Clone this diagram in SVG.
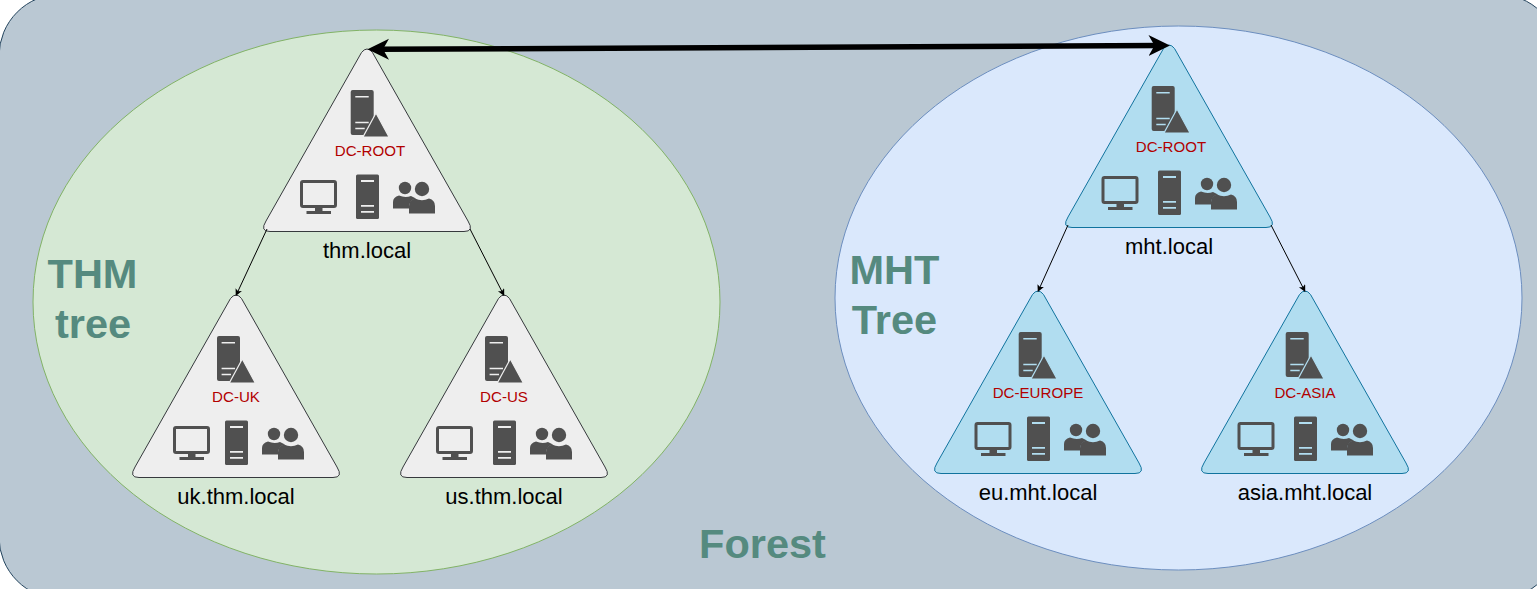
<svg xmlns="http://www.w3.org/2000/svg" xmlns:xlink="http://www.w3.org/1999/xlink" width="1537" height="589" viewBox="0 0 1537 589">
<style>
text{font-family:"Liberation Sans",Arial,sans-serif;text-anchor:middle}
.big{font-size:41.500px;font-weight:bold;fill:#558a7f}
.dc{font-size:15.100px;fill:#b20000}
.dom{font-size:22px;fill:#000}
.ic{fill:#505050}
.tg{fill:#eeeeee;stroke:#36393d;stroke-width:1}
.tb{fill:#b1ddf0;stroke:#10739e;stroke-width:1}
.thin{stroke:#000;stroke-width:1;fill:none;marker-end:url(#a)}
.thick{stroke:#000;stroke-width:5.500;fill:none;marker-start:url(#b);marker-end:url(#b)}
</style>
<defs>
<marker id="a" markerUnits="userSpaceOnUse" markerWidth="8" markerHeight="8" refX="6.500" refY="3.500" orient="auto"><path d="M0,0L7,3.500L0,7L1.700,3.500Z" fill="#000"/></marker>
<marker id="b" markerUnits="userSpaceOnUse" markerWidth="24" markerHeight="24" refX="11" refY="11" orient="auto-start-reverse"><path d="M0,0.500L21.500,11L0,21.500L6,11Z" fill="#000"/></marker>
<path id="tri" d="M-5.500,3.500Q0,-3.500 5.500,3.500L101,172Q107.500,182.500 97,182.500L-97,182.500Q-107.500,182.500 -101,172Z"/>
<g id="dcicon">
<rect class="ic" x="0" y="41" width="23" height="45" rx="2"/>
<path d="M4.600,47.700H18M4.600,73.500H18M4.600,79.500H14" stroke="var(--l)" stroke-width="1.600" fill="none"/>
<path class="ic" d="M25.300,64L12.300,88H38.300Z" stroke="var(--l)" stroke-width="1.200"/>
</g>
<g id="monitor">
<rect x="1.500" y="132.500" width="34" height="25" rx="1.500" fill="none" stroke="#505050" stroke-width="3"/>
<path class="ic" d="M15,158.500H22.500V162H31V165H6.500V162H15Z"/>
</g>
<g id="rest">
<rect class="ic" x="-11" y="125.500" width="23" height="44.500" rx="1.500"/>
<path d="M-6,132H7M-6,156.800H7M-6,162.800H7" stroke="var(--l)" stroke-width="1.800" fill="none"/>
<circle class="ic" cx="38" cy="139" r="6.200"/>
<path class="ic" d="M26,159.500V153Q26,148 32,146.500Q38,149 44,147L49,149.500Q43,150.500 42,157V159.500Z"/>
<circle class="ic" cx="55" cy="140" r="7.200"/>
<path class="ic" d="M42,164.500V157Q42,151 48,149.500Q55,153 62,149.500Q68,151 68,157V164.500Z"/>
</g>
</defs>
<rect id="forest" x="-1" y="-6" width="1560.400" height="605" rx="62" ry="62" fill="#bac8d3" stroke="#23445d" stroke-width="1"/>
<ellipse id="thm-tree" cx="376.500" cy="302" rx="343.500" ry="272" fill="#d5e8d4" stroke="#82b366"/>
<ellipse id="mht-tree" cx="1178.500" cy="298" rx="343.500" ry="272" fill="#dae8fc" stroke="#6c8ebf"/>
<text class="big" x="762.500" y="558">Forest</text>
<g id="thm-label"><text class="big" x="92.500" y="288">THM</text><text class="big" x="93" y="338">tree</text></g>
<g id="mht-label"><text class="big" x="894.500" y="284">MHT</text><text class="big" x="894.500" y="334">Tree</text></g>
<g id="thm-root" transform="translate(367,49)" style="--l:#eeeeee"><use href="#tri" class="tg"/><use href="#dcicon" x="-16.300"/><use href="#monitor" x="-67"/><use href="#rest"/><text class="dc" x="3" y="107">DC-ROOT</text><text class="dom" y="208.500">thm.local</text></g>
<g id="thm-uk" transform="translate(236,295)" style="--l:#eeeeee"><use href="#tri" class="tg"/><use href="#dcicon" x="-19"/><use href="#monitor" x="-63"/><use href="#rest"/><text class="dc" y="107">DC-UK</text><text class="dom" y="208.500">uk.thm.local</text></g>
<g id="thm-us" transform="translate(504,295)" style="--l:#eeeeee"><use href="#tri" class="tg"/><use href="#dcicon" x="-19"/><use href="#monitor" x="-68"/><use href="#rest"/><text class="dc" y="107">DC-US</text><text class="dom" y="208.500">us.thm.local</text></g>
<g id="mht-root" transform="translate(1169,45)" style="--l:#b1ddf0"><use href="#tri" class="tb"/><use href="#dcicon" x="-17.300"/><use href="#monitor" x="-67.500"/><use href="#rest"/><text class="dc" x="2" y="107">DC-ROOT</text><text class="dom" y="208.500">mht.local</text></g>
<g id="mht-eu" transform="translate(1038,291)" style="--l:#b1ddf0"><use href="#tri" class="tb"/><use href="#dcicon" x="-19.300"/><use href="#monitor" x="-63.500"/><use href="#rest"/><text class="dc" y="107">DC-EUROPE</text><text class="dom" y="208.500">eu.mht.local</text></g>
<g id="mht-asia" transform="translate(1305,291)" style="--l:#b1ddf0"><use href="#tri" class="tb"/><use href="#dcicon" x="-19.300"/><use href="#monitor" x="-67.500"/><use href="#rest"/><text class="dc" y="107">DC-ASIA</text><text class="dom" y="208.500">asia.mht.local</text></g>
<g id="connectors">
<path class="thin" d="M267,229L236,295.500"/>
<path class="thin" d="M470,229L504,295.500"/>
<path class="thin" d="M1068,225L1038,291.500"/>
<path class="thin" d="M1271,225L1305,291.500"/>
<path class="thick" d="M378,49.300L1159.500,45.500"/>
</g>
</svg>
